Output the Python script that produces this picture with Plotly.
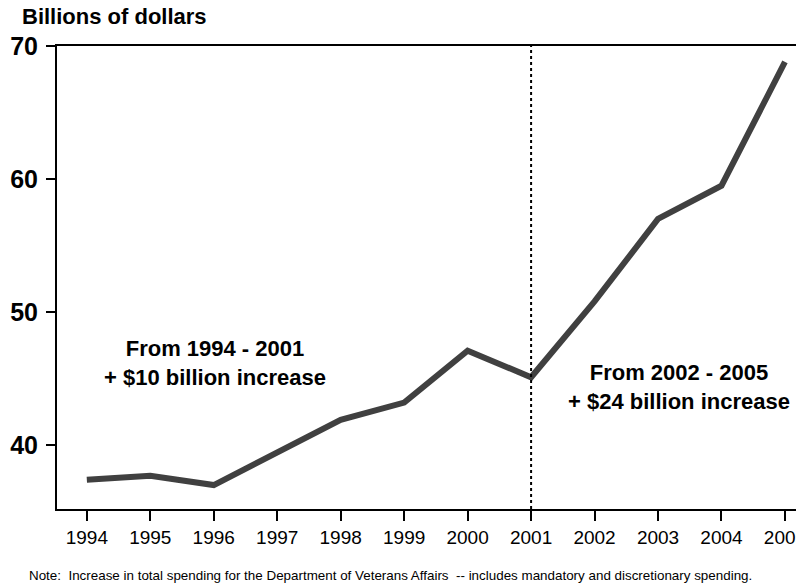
import plotly.graph_objects as go

# VA total spending, billions of dollars
years = [1994, 1995, 1996, 1997, 1998, 1999, 2000, 2001, 2002, 2003, 2004, 2005]
spending = [37.4, 37.7, 37.0, 39.4, 41.9, 43.2, 47.1, 45.1, 50.8, 57.0, 59.5, 68.8]

y_ticks = [40, 50, 60, 70]

font_family = "Liberation Sans, Arial, sans-serif"

fig = go.Figure()

fig.add_trace(go.Scatter(
    x = years,
    y = spending,
    mode = "lines",
    line = dict(color = "#404040", width = 6),
    hoverinfo = "skip",
    showlegend = False
))

# divider at 2001
fig.add_shape(
    type = "line",
    x0 = 2001, x1 = 2001,
    y0 = 0, y1 = 1,
    xref = "x", yref = "paper",
    line = dict(color = "black", width = 2, dash = "dot")
)

fig.add_annotation(
    x = 1996.02, y = 46.2, xref = "x", yref = "y",
    text = "From 1994 - 2001<br>+ $10 billion increase",
    showarrow = False,
    font = dict(family = font_family, size = 22, color = "black", weight = "bold"),
    align = "center"
)

fig.add_annotation(
    x = 2003.33, y = 44.4, xref = "x", yref = "y",
    text = "From 2002 - 2005<br>+ $24 billion increase",
    showarrow = False,
    font = dict(family = font_family, size = 22, color = "black", weight = "bold"),
    align = "center"
)

fig.add_annotation(
    x = 0.0, y = 1.0, xref = "paper", yref = "paper",
    xanchor = "left", yanchor = "middle",
    xshift = -37, yshift = 30,
    text = "Billions of dollars",
    showarrow = False,
    font = dict(family = font_family, size = 22, color = "black", weight = "bold")
)

fig.add_annotation(
    x = 0.0, y = 0, xref = "paper", yref = "paper",
    xanchor = "left", yanchor = "middle",
    xshift = -30, yshift = -66,
    text = "Note:  Increase in total spending for the Department of Veterans Affairs  -- includes mandatory and discretionary spending.",
    showarrow = False,
    font = dict(family = font_family, size = 13.4, color = "black")
)

fig.update_xaxes(
    range = [1993.53, 2005.3],
    tickvals = years,
    ticks = "outside",
    ticklen = 10,
    tickwidth = 2,
    tickcolor = "black",
    showline = True,
    linecolor = "black",
    linewidth = 2,
    mirror = True,
    showgrid = False,
    zeroline = False,
    automargin = False,
    ticklabeloverflow = "allow",
    tickfont = dict(family = font_family, size = 19, color = "black")
)

fig.update_yaxes(
    range = [35.2, 70],
    tickvals = y_ticks,
    ticks = "outside",
    ticklen = 9,
    tickwidth = 2,
    tickcolor = "black",
    showline = True,
    linecolor = "black",
    linewidth = 2,
    showgrid = False,
    zeroline = False,
    automargin = False,
    ticklabelstandoff = 3,
    tickfont = dict(family = font_family, size = 25, color = "black", weight = "bold")
)

# page body adds an 8px offset, so the figure is a bit smaller
fig.update_layout(
    width = 796,
    height = 577,
    margin = dict(l = 49, r = 0, t = 38, b = 76, autoexpand = False),
    paper_bgcolor = "white",
    plot_bgcolor = "white",
    font = dict(family = font_family)
)

fig.write_html("out.html")
